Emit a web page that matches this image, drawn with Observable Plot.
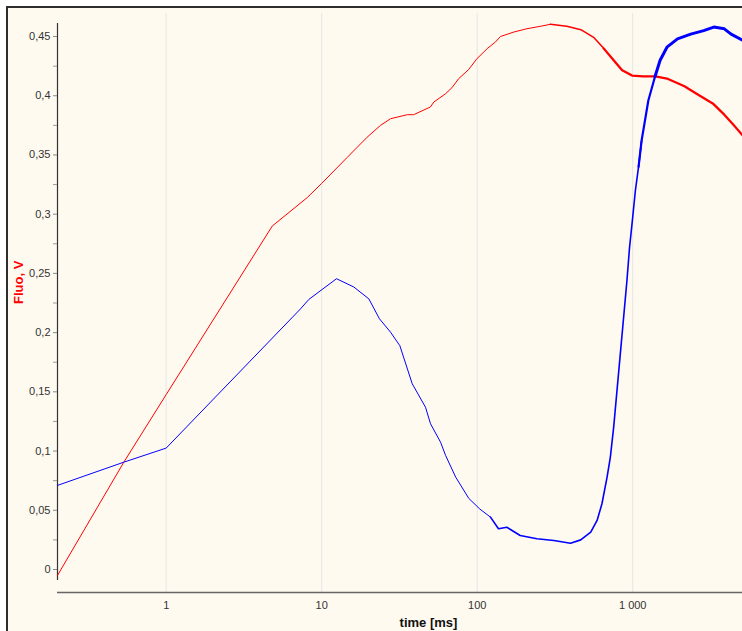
<!DOCTYPE html>
<html>
<head>
<meta charset="utf-8">
<script src="https://cdn.jsdelivr.net/npm/d3@7"></script>
<script src="https://cdn.jsdelivr.net/npm/@observablehq/plot@0.6"></script>
<style>
  html, body { margin: 0; padding: 0; background: #ffffff; overflow: hidden; }
  #wrap { position: relative; width: 742px; height: 631px; }
  #frame {
    position: absolute; left: 6px; top: 6px; width: 760px; height: 650px;
    border-left: 2px solid #2e2e2e; border-top: 2px solid #2e2e2e;
    background: #fffaf0;
  }
  #chart { position: absolute; left: 0; top: 0; }
</style>
</head>
<body>
<div id="wrap"><div id="frame"></div><div id="chart"></div></div>
<script>
// Red trace: time (ms) and fluorescence (V)
const redTime = [0.2, 0.534, 1, 4.81, 8.07, 10, 14.6, 19.6, 23.9, 27.7, 35.5, 39, 50, 52.6, 62.6, 68.8, 76, 88.3, 99.6, 116, 131, 141, 172, 209, 254, 295, 377, 464, 564, 650, 754, 855, 990, 1170, 1400, 1660, 2150, 2620, 3270, 3880, 4470, 5080];
const redFluo = [-0.005, 0.0906, 0.1477, 0.290, 0.314, 0.326, 0.348, 0.365, 0.375, 0.3806, 0.384, 0.384, 0.3905, 0.3947, 0.4017, 0.4068, 0.4144, 0.4223, 0.4313, 0.4398, 0.4454, 0.450, 0.4538, 0.4566, 0.4586, 0.4603, 0.4586, 0.4558, 0.449, 0.440, 0.430, 0.4215, 0.417, 0.4164, 0.4164, 0.4145, 0.408, 0.401, 0.3935, 0.384, 0.375, 0.3666];

// Blue trace: time (ms) and fluorescence (V)
const blueTime = [0.2, 0.534, 1, 7.3, 8.26, 12.45, 16.1, 20.1, 23.5, 27.7, 31.8, 38.2, 46.5, 50.1, 58.1, 62.6, 72.7, 88.3, 104, 121.7, 137, 155, 189, 242, 311, 398, 463, 537, 590, 634, 684, 718, 754, 792, 832, 874, 918, 954, 990, 1040, 1090, 1140, 1260, 1390, 1500, 1660, 1940, 2360, 2860, 3320, 3880, 4290, 5080];
const blueFluo = [0.071, 0.0906, 0.1025, 0.220, 0.228, 0.2455, 0.2385, 0.2285, 0.2117, 0.2004, 0.189, 0.1568, 0.137, 0.123, 0.1075, 0.0963, 0.078, 0.060, 0.051, 0.0442, 0.0344, 0.0357, 0.0287, 0.026, 0.0245, 0.0222, 0.025, 0.0315, 0.0414, 0.0555, 0.078, 0.0949, 0.120, 0.151, 0.182, 0.213, 0.244, 0.272, 0.292, 0.320, 0.340, 0.362, 0.396, 0.416, 0.430, 0.441, 0.448, 0.452, 0.455, 0.458, 0.4565, 0.452, 0.447];

// Axis ticks
const xTicks = [1, 10, 100, 1000];
const yTicks = [0, 0.05, 0.1, 0.15, 0.2, 0.25, 0.3, 0.35, 0.4, 0.45];
const yMinorTicks = [0.025, 0.075, 0.125, 0.175, 0.225, 0.275, 0.325, 0.375, 0.425];

const xDomain = [0.2, 5080];
const yDomain = [-0.0093, 0.461];

const rows = (time, fluo) => time.map((t, i) => ({t, v: fluo[i]}));
const red = rows(redTime, redFluo);
const blue = rows(blueTime, blueFluo);
// the sampled traces get denser (and visually heavier) towards long times
const span = (data, a, b) => data.filter(d => d.t >= a && d.t <= b);

const fmtY = d => String(d).replace(".", ",");
const fmtX = d => d3.format(",")(d).replace(/,/g, " ");

const chart = Plot.plot({
  width: 742,
  height: 631,
  marginLeft: 57,
  marginRight: 0,
  marginTop: 23,
  marginBottom: 51,
  style: {background: "transparent", fontFamily: "'Liberation Sans', Arial, sans-serif", fontSize: "11px", color: "#333"},
  x: {type: "log", domain: xDomain, label: null},
  y: {domain: yDomain, label: null},
  marks: [
    Plot.ruleX(xTicks, {stroke: "#e6e6e6", strokeWidth: 1, insetTop: -10, insetBottom: -12}),
    Plot.ruleY([yDomain[0]], {dy: 12, stroke: "#666", strokeWidth: 1.5}),
    Plot.ruleX([xDomain[0]], {stroke: "#333", strokeWidth: 1.2}),
    Plot.axisY({ticks: yTicks, tickFormat: fmtY, tickSize: 4, tickPadding: 3, stroke: "#888", fill: "#333", label: null}),
    Plot.axisY({ticks: yMinorTicks, tickFormat: () => "", tickSize: 4, stroke: "#999", label: null}),
    Plot.axisX({ticks: xTicks, tickFormat: fmtX, tickSize: 0, tickPadding: 21, fill: "#333", label: null}),
    Plot.line(span(red, 0, 300), {x: "t", y: "v", stroke: "#ff0000", strokeWidth: 1}),
    Plot.line(span(red, 290, 700), {x: "t", y: "v", stroke: "#ff0000", strokeWidth: 1.5}),
    Plot.line(span(red, 640, 6000), {x: "t", y: "v", stroke: "#ff0000", strokeWidth: 2.3}),
    Plot.line(span(blue, 0, 125), {x: "t", y: "v", stroke: "#0000ff", strokeWidth: 1}),
    Plot.line(span(blue, 120, 1140), {x: "t", y: "v", stroke: "#0000ff", strokeWidth: 1.6}),
    Plot.line(span(blue, 1090, 1400), {x: "t", y: "v", stroke: "#0000ff", strokeWidth: 2.2}),
    Plot.line(span(blue, 1390, 6000), {x: "t", y: "v", stroke: "#0000ff", strokeWidth: 3}),
    Plot.text(["Fluo, V"], {frameAnchor: "left", dx: -39, dy: 2, rotate: -90, fill: "#ff0000", fontWeight: "bold", fontSize: 13}),
    Plot.text(["time [ms]"], {frameAnchor: "bottom", dx: 28.5, dy: 42, lineAnchor: "middle", fill: "#111", fontWeight: "bold", fontSize: 13})
  ]
});

document.getElementById("chart").append(chart);
</script>
</body>
</html>
